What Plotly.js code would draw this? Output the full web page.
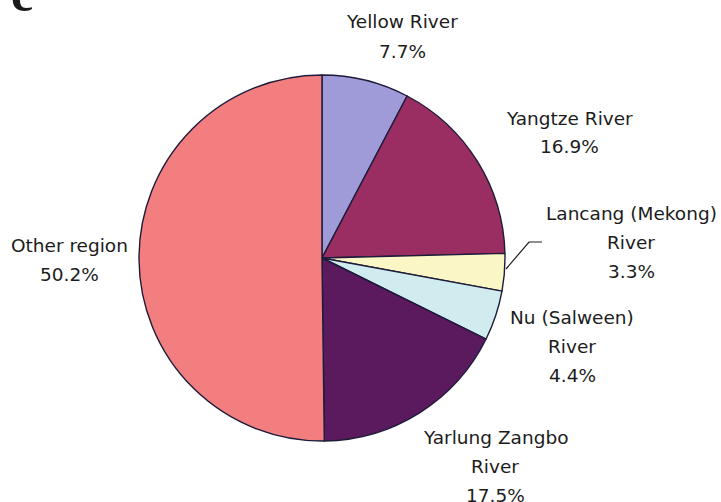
<!DOCTYPE html>
<html>
<head>
<meta charset="utf-8">
<script src="https://cdn.plot.ly/plotly-3.0.1.min.js"></script>
<style>
  html, body { margin: 0; padding: 0; background: #ffffff; }
  #chart { width: 721px; height: 502px; }
</style>
</head>
<body>
<div id="chart"></div>
<script>
// ---- data ----
const regions = ["Yellow River", "Yangtze River", "Lancang (Mekong) River", "Nu (Salween) River", "Yarlung Zangbo River", "Other region"];
const labelText = ["Yellow River", "Yangtze River", "Lancang (Mekong)<br>River", "Nu (Salween)<br>River", "Yarlung Zangbo<br>River", "Other region"];
const shares = [7.7, 16.9, 3.3, 4.4, 17.5, 50.2];
const sliceColors = ["#9f9bd8", "#9a2e62", "#fbf6c6", "#d0ecef", "#5c1a5e", "#f27e80"];

// ---- layout helpers (pixel -> paper) ----
const W = 721, H = 502;
const px = x => x / W;
const py = y => 1 - y / H;

// label anchor points (centre of first text line, in pixels)
const labelPos = [[402, 22], [569, 118], [631, 213], [572, 317], [495, 437], [69, 245]];
const lineGap = 29;

const cx = 322, cy = 258, R = 183;

const annotations = [];
regions.forEach((r, i) => {
  const lines = (labelText[i] + "<br>" + shares[i].toFixed(1) + "%").split("<br>");
  lines.forEach((ln, k) => {
    annotations.push({
      text: ln, xref: "paper", yref: "paper",
      x: px(labelPos[i][0]), y: py(labelPos[i][1] + k * lineGap),
      xanchor: "center", yanchor: "middle", showarrow: false,
      font: { family: "DejaVu Sans, Verdana, sans-serif", size: 18.5, color: "#1c1c1c" }
    });
  });
});
// panel letter
annotations.push({
  text: "<b>c</b>", xref: "paper", yref: "paper",
  x: px(22), y: py(24), xanchor: "center", yanchor: "bottom", showarrow: false,
  font: { family: "Liberation Serif, Times New Roman, serif", size: 50, color: "#1a1a1a" }
});

const trace = {
  type: "pie",
  labels: regions,
  values: shares,
  sort: false,
  direction: "clockwise",
  rotation: 0,
  textinfo: "none",
  hoverinfo: "none",
  marker: { colors: sliceColors, line: { color: "#1e1b3a", width: 1.4 } },
  domain: { x: [px(cx - R), px(cx + R)], y: [py(cy + R), py(cy - R)] },
  showlegend: false
};

const layout = {
  width: W, height: H,
  margin: { l: 0, r: 0, t: 0, b: 0 },
  paper_bgcolor: "#ffffff",
  plot_bgcolor: "#ffffff",
  showlegend: false,
  annotations: annotations,
  shapes: [{
    type: "path", xref: "paper", yref: "paper",
    path: "M " + px(506) + "," + py(269) + " L " + px(529) + "," + py(242) + " L " + px(542) + "," + py(242),
    line: { color: "#1e1e1e", width: 1.2 }
  }]
};

Plotly.newPlot("chart", [trace], layout, { displayModeBar: false, staticPlot: true });
</script>
</body>
</html>
